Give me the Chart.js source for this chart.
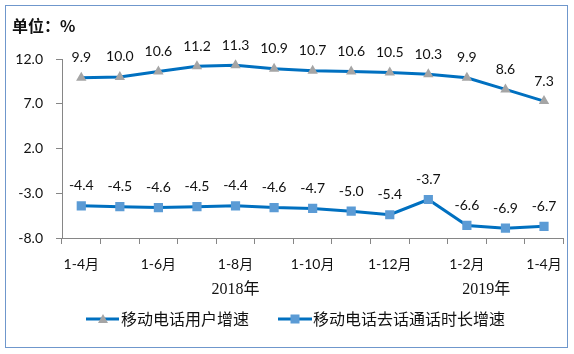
<!DOCTYPE html>
<html>
<head>
<meta charset="utf-8">
<script src="https://cdn.jsdelivr.net/npm/chart.js@4.4.1/dist/chart.umd.min.js"></script>
<style>
  html, body { margin: 0; padding: 0; background: #fff; }
</style>
</head>
<body>
<canvas id="speedChart" width="574" height="354"></canvas>
<script>
/* ── Datos ─────────────────────────────────────────── */
var months = ['1-4月','1-5月','1-6月','1-7月','1-8月','1-9月','1-10月','1-11月','1-12月','1月','1-2月','1-3月','1-4月'];
var userGrowth = [9.9, 10.0, 10.6, 11.2, 11.3, 10.9, 10.7, 10.6, 10.5, 10.3, 9.9, 8.6, 7.3];
var callGrowth = [-4.4, -4.5, -4.6, -4.5, -4.4, -4.6, -4.7, -5.0, -5.4, -3.7, -6.6, -6.9, -6.7];
var yearGroups = [['2018年', 0, 8], ['2019年', 9, 12]];
var seriesNames = ['移动电话用户增速', '移动电话去话通话时长增速'];

var C = { line:'#0070c0', tri:'#a5a5a5', sq:'#5b9bd5', axis:'#868686', frame:'#6f97cc', text:'#111' };
var LAT = 'Lato, "Noto Sans CJK SC", sans-serif';
var CJK = '"Noto Sans CJK SC", sans-serif';

/* ── Decoración: etiquetas, años, leyenda, marco ──── */
var deco = {
    id: 'deco',
    afterDraw: function (chart) {
        var c = chart.ctx, xs = chart.scales.x;
        c.save();

        // etiquetas de datos
        c.font = '14px ' + LAT;
        c.fillStyle = C.text;
        c.textAlign = 'center';
        c.textBaseline = 'middle';
        chart.data.datasets.forEach(function (ds, i) {
            chart.getDatasetMeta(i).data.forEach(function (pt, j) {
                c.fillText(ds.data[j].toFixed(1), pt.x, pt.y - 20);
            });
        });

        // años
        c.font = '16px "Liberation Serif", ' + CJK;
        yearGroups.forEach(function (g) {
            var x = (xs.getPixelForValue(g[1]) + xs.getPixelForValue(g[2])) / 2;
            c.fillText(g[0], x, 290);
        });

        // título
        c.textAlign = 'left';
        c.font = 'bold 16px ' + CJK;
        c.fillText('单位：%', 12, 26);

        // leyenda
        var ly = 319;
        c.strokeStyle = C.line; c.lineWidth = 3;
        c.beginPath(); c.moveTo(86, ly); c.lineTo(119, ly); c.stroke();
        c.beginPath(); c.moveTo(278, ly); c.lineTo(312, ly); c.stroke();
        c.fillStyle = C.tri;
        c.beginPath(); c.moveTo(103, ly - 5); c.lineTo(108, ly + 4); c.lineTo(98, ly + 4); c.closePath(); c.fill();
        c.fillStyle = C.sq;
        c.fillRect(290.5, ly - 4.5, 9, 9);
        c.fillStyle = C.text;
        c.font = '16px ' + CJK;
        c.fillText(seriesNames[0], 121, ly);
        c.fillText(seriesNames[1], 313, ly);

        // marco
        c.strokeStyle = C.frame; c.lineWidth = 1;
        c.strokeRect(5.5, 5.5, 562, 342);
        c.restore();
    }
};

new Chart(document.getElementById('speedChart'), {
    type: 'line',
    data: { labels: months, datasets: [
        { label: seriesNames[0], data: userGrowth, borderColor: C.line, borderWidth: 3,
          pointStyle: 'triangle', pointRadius: 6, pointBackgroundColor: C.tri, pointBorderWidth: 0, tension: 0 },
        { label: seriesNames[1], data: callGrowth, borderColor: C.line, borderWidth: 3,
          pointStyle: 'rect', pointRadius: 6.5, pointBackgroundColor: C.sq, pointBorderWidth: 0, tension: 0 }
    ]},
    options: {
        responsive: false, animation: false,
        layout: { padding: { top: 59, right: 7, left: 0, bottom: 0 } },
        plugins: { legend: { display: false }, tooltip: { enabled: false } },
        scales: {
            x: {
                offset: true,
                grid: { offset: true, drawOnChartArea: false, tickLength: 6, color: C.axis },
                border: { color: C.axis },
                ticks: { autoSkip: false, maxRotation: 0, padding: 12, color: C.text, font: { family: LAT, size: 14 },
                    callback: function (v, i) { return i % 2 ? '' : this.getLabelForValue(v); } },
                afterFit: function (s) { s.height = 116; }
            },
            y: {
                min: -8, max: 12,
                grid: { drawOnChartArea: false, tickLength: 6, color: C.axis },
                border: { color: C.axis },
                ticks: { stepSize: 5, padding: 13, color: C.text, font: { family: LAT, size: 14 },
                    callback: function (v) { return v.toFixed(1); } },
                afterFit: function (s) { s.width = 62; }
            }
        }
    },
    plugins: [deco]
});
</script>
</body>
</html>
